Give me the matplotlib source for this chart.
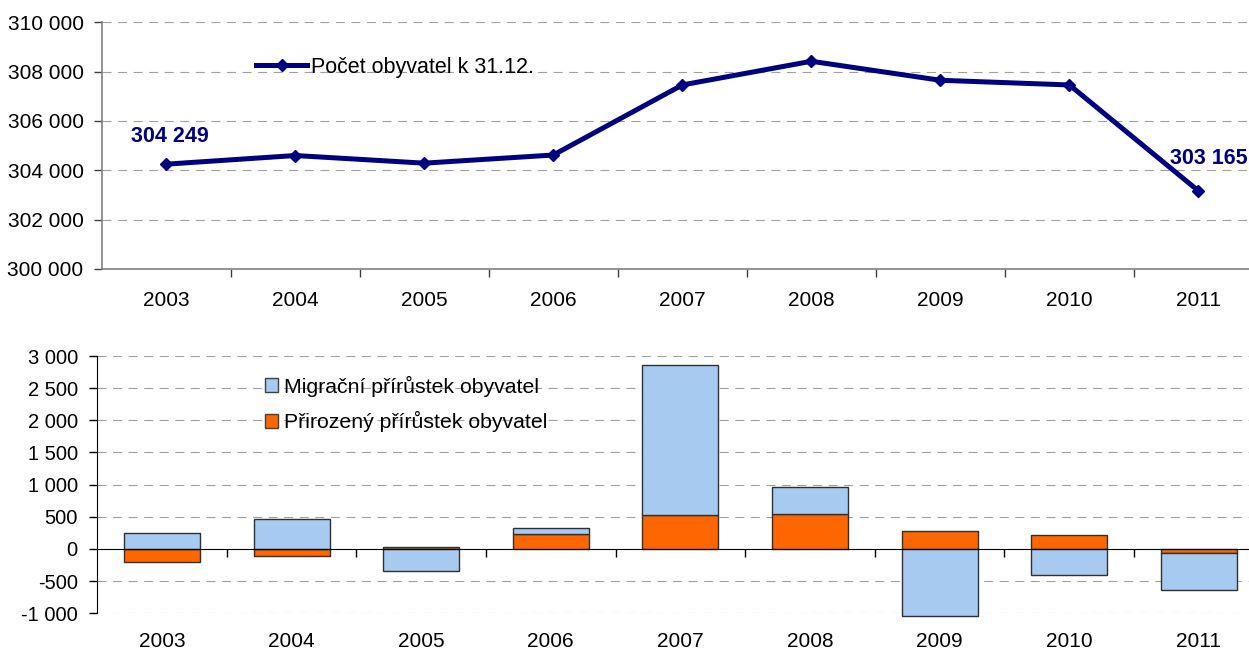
import matplotlib
matplotlib.use("Agg")
import matplotlib.pyplot as plt
from matplotlib.ticker import FuncFormatter, FixedLocator
from matplotlib.patches import Patch

plt.rcParams['font.family'] = ['Liberation Sans', 'DejaVu Sans']

years = ["2003", "2004", "2005", "2006", "2007", "2008", "2009", "2010", "2011"]
population = [304249, 304600, 304290, 304620, 307460, 308420, 307650, 307460, 303165]
natural = [-203, -115, 30, 229, 521, 542, 276, 219, -62]
migration = [245, 463, -344, 104, 2333, 422, -1042, -411, -579]

line_label = "Počet obyvatel k 31.12."
mig_label = "Migrační přírůstek obyvatel"
nat_label = "Přirozený přírůstek obyvatel"

NAVY = "#000080"
BLUE = "#A6CAF0"
ORANGE = "#FF6600"
GRID = "#A0A0A0"

W, H = 1249, 653
fig = plt.figure(figsize=(W / 100, H / 100), dpi=100)

def fmt(v, pos=None):
    return f"{int(round(v)):,}".replace(",", " ")

dash = (0, (8.1, 5.9))
x = list(range(len(years)))
bounds = [i + 0.5 for i in range(len(years))]

# ---------------- top chart ----------------
l, r, t, b = 101.6, 1263.0, 22.3, 269.0
ax1 = fig.add_axes([l / W, 1 - b / H, (r - l) / W, (b - t) / H])
ax1.set_xlim(-0.5, 8.5)
ax1.set_ylim(300000, 310000)
ax1.set_yticks(range(300000, 310001, 2000))
ax1.yaxis.set_major_formatter(FuncFormatter(fmt))
for s in ["top", "right"]:
    ax1.spines[s].set_visible(False)
for s in ["left", "bottom"]:
    ax1.spines[s].set_color("#808080")
    ax1.spines[s].set_linewidth(1.2)
for yv in range(302000, 310001, 2000):
    ax1.axhline(yv, color=GRID, lw=0.8, ls=dash, zorder=0)
ax1.xaxis.set_major_locator(FixedLocator(bounds))
ax1.xaxis.set_minor_locator(FixedLocator(x))
ax1.set_xticklabels([], minor=False)
ax1.set_xticklabels(years, minor=True)
ax1.tick_params(axis="x", which="major", length=6, width=1, color="#404040", direction="out")
ax1.tick_params(axis="x", which="minor", length=0, pad=16, labelsize=15)
ax1.tick_params(axis="y", length=6, width=1, color="#404040", pad=7, labelsize=15)

ln, = ax1.plot(x, population, color=NAVY, lw=3.6, marker="D", markersize=6.5,
               label=line_label, zorder=3, solid_joinstyle="round")
ax1.annotate(fmt(population[0]), (x[0], population[0]), xytext=(2.5, 20),
             textcoords="offset points", ha="center", va="center",
             fontsize=15.5, fontweight="bold", color=NAVY)
ax1.annotate(fmt(population[-1]), (x[-1], population[-1]), xytext=(7.5, 23),
             textcoords="offset points", ha="center", va="center",
             fontsize=15.5, fontweight="bold", color=NAVY)
ax1.legend(handles=[ln], loc="center left", bbox_to_anchor=(256 / W, 1 - 67 / H),
           bbox_transform=fig.transFigure, frameon=False, fontsize=15.5,
           handlelength=2.37, handletextpad=0.19, borderpad=0, borderaxespad=0)

# ---------------- bottom chart ----------------
l, r, t, b = 97.2, 1263.6, 356.0, 613.3
ax2 = fig.add_axes([l / W, 1 - b / H, (r - l) / W, (b - t) / H])
ax2.set_xlim(-0.5, 8.5)
ax2.set_ylim(-1000, 3000)
ax2.set_yticks(range(-1000, 3001, 500))
ax2.yaxis.set_major_formatter(FuncFormatter(fmt))
for s in ["top", "right"]:
    ax2.spines[s].set_visible(False)
ax2.spines["left"].set_color("black")
ax2.spines["bottom"].set_position(("data", 0))
ax2.spines["bottom"].set_color("black")
for yv in range(-1000, 3001, 500):
    if yv != 0:
        ax2.axhline(yv, color=GRID, lw=0.8, ls=dash, zorder=0)

width = 0.586
pos_bottom = [0.0] * len(years)
neg_bottom = [0.0] * len(years)
for vals, col in [(natural, ORANGE), (migration, BLUE)]:
    bottoms = []
    for i, v in enumerate(vals):
        if v >= 0:
            bottoms.append(pos_bottom[i]); pos_bottom[i] += v
        else:
            bottoms.append(neg_bottom[i]); neg_bottom[i] += v
    bars = ax2.bar(x, vals, width=width, bottom=bottoms, color=col,
                   edgecolor="#303030", linewidth=1.0, zorder=2)
    for p in bars:
        p.set_clip_on(False)

ax2.xaxis.set_major_locator(FixedLocator(bounds))
ax2.xaxis.set_minor_locator(FixedLocator(x))
ax2.set_xticklabels([], minor=False)
ax2.set_xticklabels(years, minor=True)
ax2.tick_params(axis="x", which="major", length=6, width=1, color="black", direction="out")
ax2.tick_params(axis="x", which="minor", length=0, pad=59.5, labelsize=15)
ax2.tick_params(axis="y", length=6, width=1, color="black", pad=8, labelsize=14.5)

handles = [Patch(facecolor=BLUE, edgecolor="#404040", label=mig_label),
           Patch(facecolor=ORANGE, edgecolor="#404040", label=nat_label)]
ax2.legend(handles=handles, loc="center left", bbox_to_anchor=(265 / W, 1 - 404 / H),
           bbox_transform=fig.transFigure, frameon=False, fontsize=15.3,
           handlelength=0.61, handleheight=0.61, handletextpad=0.28,
           labelspacing=0.7, borderpad=0, borderaxespad=0)

fig.savefig("out.png", dpi=100)
